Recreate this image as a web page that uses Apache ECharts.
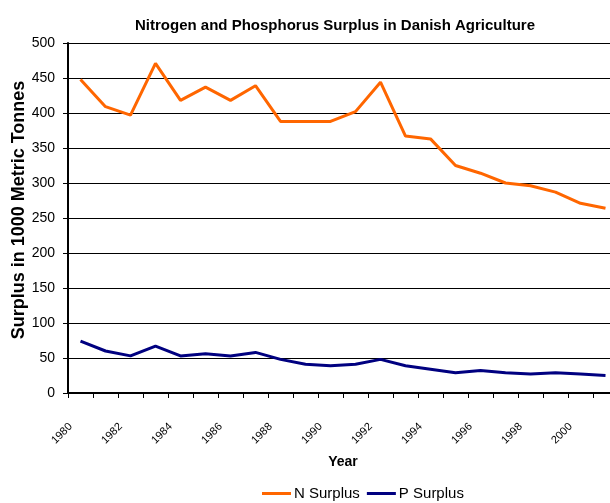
<!DOCTYPE html>
<html>
<head>
<meta charset="utf-8">
<script src="https://cdn.jsdelivr.net/npm/echarts@6/dist/echarts.min.js"></script>
<style>
  html, body { margin: 0; padding: 0; background: #fff; overflow: hidden; }
  /* plot runs past the right edge in the original, so the canvas is a bit wider than the window */
  #chart { width: 620px; height: 503px; }
</style>
</head>
<body>
<div id="chart"></div>
<script>
var years = ["1980", "1981", "1982", "1983", "1984", "1985", "1986", "1987", "1988", "1989", "1990",
  "1991", "1992", "1993", "1994", "1995", "1996", "1997", "1998", "1999", "2000", "2001"];
var nSurplus = [448, 409, 397, 471, 418, 437, 418, 439, 388, 388, 388,
  402, 444, 367, 363, 325, 314, 300, 296, 287, 271, 264];
var pSurplus = [74, 60, 53, 67, 53, 56, 53, 58, 48, 41, 39,
  41, 48, 39, 34, 29, 32, 29, 27, 29, 27, 25];

var font = "Liberation Sans, Arial, sans-serif";
var myChart = echarts.init(document.getElementById("chart"));
var option = {
  animation: false,
  title: {
    text: "Nitrogen and Phosphorus Surplus in Danish Agriculture",
    left: 330,
    textAlign: "center",
    top: 13,
    textStyle: { fontFamily: font, fontSize: 15, fontWeight: "bold", color: "#000" },
  },
  legend: {
    top: 481,
    left: 257,
    itemWidth: 29,
    itemHeight: 3,
    itemGap: 7,
    icon: "rect",
    textStyle: { fontFamily: font, fontSize: 15, color: "#000", padding: [0, 0, 0, -2] },
    data: ["N Surplus", "P Surplus"],
  },
  grid: { left: 68, right: 2, top: 43, bottom: 110, containLabel: false, outerBoundsMode: "none" },
  xAxis: {
    type: "category",
    data: years,
    boundaryGap: true,
    name: "Year",
    nameLocation: "middle",
    nameGap: 62,
    nameTextStyle: { fontFamily: font, fontSize: 14, fontWeight: "bold", color: "#000" },
    axisLine: { lineStyle: { color: "#000", width: 2 } },
    axisTick: { show: true, length: 5, interval: 0, lineStyle: { color: "#000", width: 1 } },
    axisLabel: {
      interval: 1,
      rotate: 45,
      margin: 22,
      padding: [0, 14, 0, 0],
      fontFamily: font,
      fontSize: 11,
      color: "#000",
    },
    splitLine: { show: false },
  },
  yAxis: {
    type: "value",
    min: 0,
    max: 500,
    interval: 50,
    name: "Surplus in 1000 Metric Tonnes",
    nameLocation: "middle",
    nameGap: 40,
    nameMoveOverlap: false,
    nameTextStyle: { fontFamily: font, fontSize: 18, fontWeight: "bold", color: "#000", padding: [0, 0, 0, 16] },
    axisLine: { show: true, lineStyle: { color: "#000", width: 2 } },
    axisTick: { show: true, length: 5, lineStyle: { color: "#000", width: 1 } },
    axisLabel: { fontFamily: font, fontSize: 14, color: "#000", margin: 13 },
    splitLine: { show: true, lineStyle: { color: "#000", width: 1 } },
  },
  series: [
    {
      name: "N Surplus",
      type: "line",
      data: nSurplus,
      showSymbol: false,
      symbol: "none",
      itemStyle: { color: "#FF6600" },
      lineStyle: { color: "#FF6600", width: 3 },
    },
    {
      name: "P Surplus",
      type: "line",
      data: pSurplus,
      showSymbol: false,
      symbol: "none",
      itemStyle: { color: "#000080" },
      lineStyle: { color: "#000080", width: 3 },
    },
  ],
};
option && myChart.setOption(option);
</script>
</body>
</html>
